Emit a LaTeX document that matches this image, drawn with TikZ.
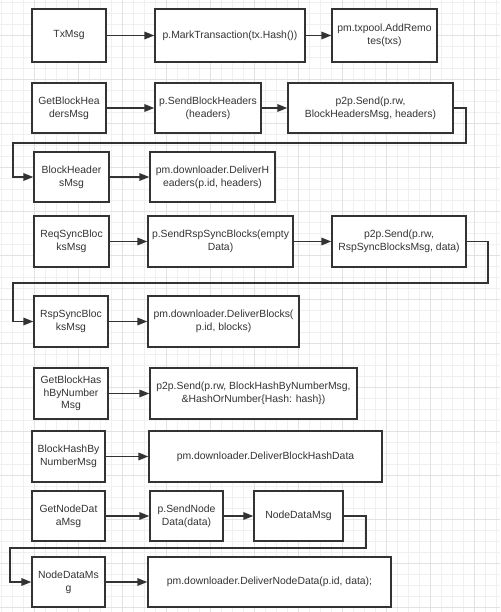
\documentclass[tikz,border=0pt]{standalone}
\usepackage{fontspec}
\setmainfont{Liberation Sans}
\usetikzlibrary{arrows.meta}
\definecolor{ink}{HTML}{333333}
\definecolor{gridminor}{HTML}{F0F0F0}
\definecolor{gridmajor}{HTML}{E2E2E2}
\tikzset{
  box/.style={draw=ink, line width=1.3pt, fill=white, align=center, inner sep=1pt,
    text=ink, font=\fontsize{10.4}{12.7}\selectfont},
  arr/.style={draw=ink, line width=1.6pt, -{Triangle[length=10pt,width=7.5pt]}},
  minorline/.style={draw=gridminor, line width=0.6pt},
  majorline/.style={draw=gridmajor, line width=0.8pt}
}
\begin{document}
\begin{tikzpicture}[x=1pt,y=-1pt]
\useasboundingbox (0,0) rectangle (500,612);
\fill[white] (0,0) rectangle (500,612);
% grid
\foreach \x in {1,12,...,500} \draw[minorline] (\x,0) -- (\x,612);
\foreach \y in {2,13,...,612} \draw[minorline] (0,\y) -- (500,\y);
\foreach \x in {34,78,...,500} \draw[majorline] (\x,0) -- (\x,612);
\foreach \y in {35,79,...,612} \draw[majorline] (0,\y) -- (500,\y);

% row 1
\node[box, minimum width=74, minimum height=53] (tx) at (69,35.5) {TxMsg};
\node[box, minimum width=150, minimum height=53] (mark) at (230,35.5) {p.MarkTransaction(tx.Hash())};
\node[box, minimum width=105, minimum height=53] (addr) at (384.5,35.5) {pm.txpool.AddRemo\\tes(txs)};
% row 2
\node[box, minimum width=74, minimum height=50] (gbh) at (69,108) {GetBlockHea\\dersMsg};
\node[box, minimum width=106, minimum height=50] (sbh) at (208,108) {p.SendBlockHeaders\\(headers)};
\node[box, minimum width=165, minimum height=50] (pa) at (370.5,108) {p2p.Send(p.rw,\\BlockHeadersMsg, headers)};
% row 3
\node[box, minimum width=75, minimum height=50] (bhm) at (71.5,177) {BlockHeader\\sMsg};
\node[box, minimum width=125, minimum height=50] (dh) at (212.5,177) {pm.downloader.DeliverH\\eaders(p.id, headers)};
% row 4
\node[box, minimum width=75, minimum height=51] (rsb) at (71.5,241.5) {ReqSyncBloc\\ksMsg};
\node[box, minimum width=145, minimum height=51] (srsb) at (220.5,241.5) {p.SendRspSyncBlocks(empty\\Data)};
\node[box, minimum width=134, minimum height=51] (pb) at (399,241.5) {p2p.Send(p.rw,\\RspSyncBlocksMsg, data)};
% row 5
\node[box, minimum width=74, minimum height=51] (rspm) at (71,321.5) {RspSyncBloc\\ksMsg};
\node[box, minimum width=151, minimum height=51] (db) at (223.5,321.5) {pm.downloader.DeliverBlocks(\\p.id, blocks)};
% row 6
\node[box, minimum width=74, minimum height=51] (gbhn) at (71,393.5) {GetBlockHas\\hByNumber\\Msg};
\node[box, minimum width=207, minimum height=51] (pc) at (253.5,393.5) {p2p.Send(p.rw, BlockHashByNumberMsg,\\\&HashOrNumber\{Hash: hash\})};
% row 7
\node[box, minimum width=73, minimum height=51] (bhbn) at (68.5,456.5) {BlockHashBy\\NumberMsg};
\node[box, minimum width=233, minimum height=51] (dbhd) at (265.5,456.5) {pm.downloader.DeliverBlockHashData};
% row 8
\node[box, minimum width=73, minimum height=50] (gnd) at (68.5,516) {GetNodeDat\\aMsg};
\node[box, minimum width=73, minimum height=50] (snd) at (186.5,516) {p.SendNode\\Data(data)};
\node[box, minimum width=89, minimum height=50] (ndm) at (298.5,516) {NodeDataMsg};
% row 9
\node[box, minimum width=73, minimum height=50] (ndmb) at (68.5,582) {NodeDataMs\\g};
\node[box, minimum width=243, minimum height=50] (dnd) at (269.5,582) {pm.downloader.DeliverNodeData(p.id, data);};

% straight arrows
\draw[arr] (tx) -- (mark);
\draw[arr] (mark) -- (addr);
\draw[arr] (gbh) -- (sbh);
\draw[arr] (sbh) -- (pa);
\draw[arr] (bhm) -- (dh);
\draw[arr] (rsb) -- (srsb);
\draw[arr] (srsb) -- (pb);
\draw[arr] (rspm) -- (db);
\draw[arr] (gbhn) -- (pc);
\draw[arr] (bhbn) -- (dbhd);
\draw[arr] (gnd) -- (snd);
\draw[arr] (snd) -- (ndm);
\draw[arr] (ndmb) -- (dnd);

% elbow connectors
\coordinate (a1) at (466,143);
\coordinate (a2) at (13,143);
\draw[arr] (pa.east) -| (a1) -- (a2) |- (bhm.west);
\coordinate (b1) at (488,283);
\coordinate (b2) at (13,283);
\draw[arr] (pb.east) -| (b1) -- (b2) |- (rspm.west);
\coordinate (c1) at (366,548);
\coordinate (c2) at (10,548);
\draw[arr] (ndm.east) -| (c1) -- (c2) |- (ndmb.west);
\end{tikzpicture}
\end{document}
